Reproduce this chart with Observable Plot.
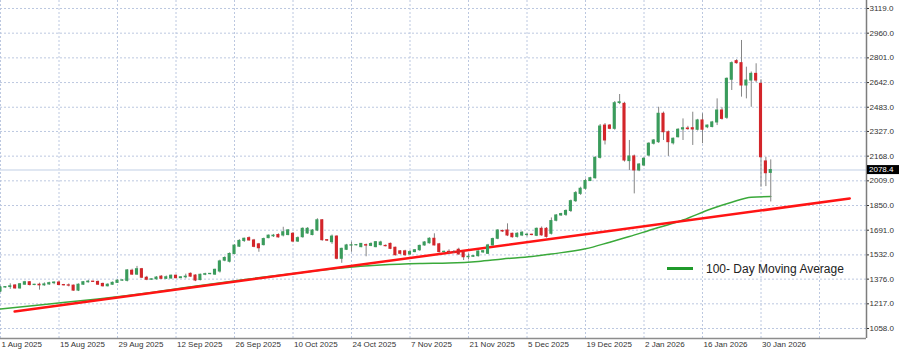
<!DOCTYPE html>
<html><head><meta charset="utf-8">
<script src="https://cdn.jsdelivr.net/npm/d3@7"></script>
<script src="https://cdn.jsdelivr.net/npm/@observablehq/plot@0.6"></script>
<style>
html,body{margin:0;padding:0;background:#fff;}
#chart{position:relative;width:900px;height:352px;overflow:hidden;}
</style></head><body><div id="chart"></div>
<script>
// ---- data (one bar per trading session, Sunday sessions included) ----
const xLabels = ["1 Aug 2025","15 Aug 2025","29 Aug 2025","12 Sep 2025","26 Sep 2025","10 Oct 2025","24 Oct 2025","7 Nov 2025","21 Nov 2025","5 Dec 2025","19 Dec 2025","2 Jan 2026","16 Jan 2026","30 Jan 2026"];
const yTicks = [1058,1217,1376,1532,1691,1850,2009,2168,2327,2483,2642,2801,2960,3119];
const barsPerLabel = 12;

const opens = [1296,1322,1325,1335,1316,1340, 1356,1338,1340,1336,1342,1350, 1354,1338,1336,1334,1302,1340, 1356,1360,1358,1345,1330,1340, 1352,1366,1365,1430,1405,1440, 1385,1372,1375,1392,1378,1380, 1398,1382,1388,1410,1399,1370, 1404,1408,1405,1425,1495,1488, 1538,1585,1622,1640,1625,1600, 1595,1640,1652,1660,1657,1660, 1668,1618,1646,1670,1660,1689, 1755,1627,1614,1650,1507,1565, 1592,1594,1582,1595,1590,1582, 1595,1590,1603,1578,1555,1555, 1535,1550,1562,1593,1607,1636, 1600,1550,1552,1550,1565,1549, 1517,1520,1524,1548,1539,1593, 1636,1686,1689,1668,1648,1657, 1660,1662,1655,1700,1700,1668, 1752,1786,1790,1815,1878,1925, 1958,2008,2026,2157,2365,2365, 2344,2510,2505,2136,2166,2076, 2108,2172,2248,2258,2441,2322, 2251,2290,2340,2346,2348,2338, 2398,2354,2356,2385,2462,2415, 2660,2780,2767,2623,2655,2698, 2634,2134,2060];
const highs = [1330,1328,1346,1340,1348,1362, 1360,1342,1350,1352,1356,1358, 1362,1342,1345,1338,1345,1360, 1368,1362,1364,1350,1346,1358, 1372,1372,1438,1440,1458,1445, 1394,1378,1392,1398,1396,1402, 1402,1390,1408,1416,1404,1408, 1414,1412,1440,1498,1520,1545, 1598,1630,1640,1648,1632,1606, 1640,1660,1664,1668,1710,1695, 1675,1648,1706,1708,1695,1765, 1760,1630,1660,1655,1575,1600, 1614,1598,1605,1602,1610,1618, 1620,1596,1608,1582,1560,1562, 1560,1566,1595,1618,1642,1668, 1606,1556,1565,1560,1575,1552, 1538,1528,1558,1560,1600,1640, 1695,1692,1732,1672,1675,1682, 1670,1665,1705,1712,1708,1770, 1792,1800,1822,1885,1940,1968, 2020,2032,2165,2372,2378,2372, 2520,2565,2515,2269,2175,2120, 2160,2255,2275,2483,2452,2330, 2285,2345,2408,2360,2451,2405, 2441,2368,2392,2537,2480,2672, 2775,2790,2913,2741,2710,2763, 2660,2161,2144];
const lows = [1290,1318,1310,1312,1312,1336, 1332,1334,1305,1330,1336,1340, 1335,1332,1326,1298,1296,1336, 1350,1355,1336,1325,1326,1336, 1348,1362,1358,1400,1400,1380, 1366,1368,1370,1374,1374,1376, 1378,1380,1378,1388,1360,1365, 1398,1404,1400,1415,1488,1480, 1532,1580,1612,1620,1578,1549, 1590,1636,1644,1640,1648,1655, 1610,1612,1640,1665,1655,1682, 1620,1618,1600,1500,1478,1560, 1549,1590,1578,1520,1585,1578, 1590,1584,1566,1525,1532,1524, 1528,1546,1555,1588,1602,1590, 1544,1546,1540,1542,1530,1496, 1500,1516,1518,1542,1535,1588, 1630,1676,1650,1640,1640,1650, 1648,1655,1650,1652,1640,1660, 1745,1780,1780,1805,1870,1915, 1950,2004,2020,2150,2240,2338, 2335,2500,2130,2076,1925,2068, 2100,2165,2240,2250,2269,2166, 2240,2285,2269,2335,2237,2330, 2248,2345,2350,2365,2400,2405, 2591,2760,2548,2537,2483,2640, 1968,1972,1873];
const closes = [1322,1325,1330,1316,1343,1356, 1338,1340,1336,1342,1350,1354, 1338,1336,1334,1302,1340,1356, 1360,1358,1340,1330,1340,1352, 1366,1368,1432,1405,1440,1385, 1372,1375,1386,1378,1388,1398, 1382,1388,1392,1392,1367,1404, 1408,1410,1436,1490,1512,1538, 1592,1622,1636,1625,1584,1575, 1634,1656,1656,1645,1678,1690, 1618,1640,1700,1700,1689,1755, 1627,1624,1650,1507,1571,1593, 1594,1595,1603,1592,1602,1614, 1612,1588,1571,1530,1539,1530, 1550,1562,1590,1612,1636,1593, 1550,1552,1550,1548,1535,1517, 1520,1524,1554,1556,1593,1634, 1689,1683,1657,1646,1668,1675, 1662,1660,1700,1658,1648,1750, 1786,1795,1815,1878,1930,1958, 2008,2026,2157,2359,2269,2344, 2509,2515,2140,2166,2076,2114, 2151,2248,2269,2441,2322,2258, 2280,2338,2348,2342,2340,2398, 2338,2365,2385,2462,2408,2666, 2767,2767,2623,2655,2698,2655, 2161,2058,2078.4];

// 100-day moving average, read at selected bars
const maBar   = [0,10,20,31,41,51,62,70,78,86,92,98,103,109,113,120,125,129,133,140,146,150,154,158];
const maValue = [1184,1216,1248,1290,1335,1377,1419,1448,1467,1477,1480,1490,1506,1522,1538,1571,1614,1650,1689,1757,1831,1871,1904,1908];

// red trend line end points
const trendBar   = [2.9, 174.2];
const trendValue = [1167.5, 1895.3];

const lastPrice = 2078.4;
const legendLabel = "100- Day Moving Average";

// ---- build ----
const bars = opens.map((o, i) => ({i, o, h: highs[i], l: lows[i], c: closes[i], up: closes[i] >= o}));
const ma = maBar.map((b, k) => ({b, v: maValue[k]}));
const trend = trendBar.map((b, k) => ({b, v: trendValue[k]}));
const labelBars = xLabels.map((_, k) => k * barsPerLabel);
const gridBars = d3.range(0, 15).map(k => k * barsPerLabel);

const W = 900, H = 352, mR = 34, mB = 14;
const pxPerBar = 4.875;
const xMax = (W - mR) / pxPerBar;
const yDomain = [993.6, 3170.5];

const plot = Plot.plot({
  width: W, height: H,
  marginLeft: 0, marginRight: mR, marginTop: 0, marginBottom: mB,
  style: {fontFamily: "'Liberation Sans', Arial, sans-serif", fontSize: "8px", color: "#333", background: "#fff"},
  x: {type: "linear", domain: [0, xMax]},
  y: {type: "linear", domain: yDomain},
  marks: [
    Plot.gridY(yTicks, {stroke: "#bcc8e0", strokeOpacity: 1, strokeDasharray: "2,2"}),
    Plot.gridX(gridBars, {stroke: "#bcc8e0", strokeOpacity: 1, strokeDasharray: "2,2"}),
    Plot.ruleY([lastPrice], {stroke: "#d6dfee", strokeWidth: 1.5}),
    Plot.line(ma, {x: "b", y: "v", curve: "monotone-x", stroke: "#3aa93a", strokeWidth: 1.5}),
    Plot.line(trend, {x: "b", y: "v", stroke: "#ff1414", strokeWidth: 2.5}),
    Plot.ruleX(bars, {x: "i", y1: "l", y2: "h", stroke: "#858585", strokeWidth: 1, clip: true}),
    Plot.rect(bars, {
      x1: d => d.i - 0.32, x2: d => d.i + 0.32,
      y1: d => Math.min(d.o, d.c), y2: d => Math.max(d.o, d.c),
      insetTop: -0.5, insetBottom: -0.5,
      fill: d => d.up ? "#3a9c5c" : "#d3252a", clip: true
    }),
    Plot.ruleX([xMax], {stroke: "#7d7d7d", strokeWidth: 1.5}),
    Plot.ruleY([yDomain[0]], {stroke: "#8d8d8d", strokeWidth: 1.5}),
    Plot.axisY(yTicks, {anchor: "right", tickFormat: d => d.toFixed(1), tickSize: 2, tickPadding: 1, fontSize: 8}),
    Plot.axisX(labelBars, {anchor: "bottom", tickFormat: d => xLabels[Math.round(d / barsPerLabel)], tickSize: 0, tickPadding: 3, textAnchor: "start", dx: 1, fontSize: 8})
  ]
});

document.getElementById("chart").appendChild(plot);

// price tag and legend overlay
const svg = d3.select(plot);
const yPx = plot.scale("y").apply(lastPrice);
const tag = svg.append("g").attr("text-anchor", "start");
tag.append("rect").attr("x", W - mR + 1).attr("y", yPx - 4.5).attr("width", 32).attr("height", 9).attr("fill", "#000");
tag.append("text").attr("x", W - mR + 3).attr("y", yPx).attr("dy", "0.34em")
  .attr("text-anchor", "start").attr("fill", "#fff").attr("font-size", 8).text(lastPrice.toFixed(1));

const lg = svg.append("g").attr("text-anchor", "start");
lg.append("line").attr("x1", 667).attr("x2", 693).attr("y1", 268.5).attr("y2", 268.5)
  .attr("stroke", "#1f9a2a").attr("stroke-width", 3);
lg.append("text").attr("x", 706).attr("y", 269).attr("dy", "0.35em").attr("text-anchor", "start")
  .attr("font-size", 12).attr("fill", "#222").text(legendLabel);
</script></body></html>
